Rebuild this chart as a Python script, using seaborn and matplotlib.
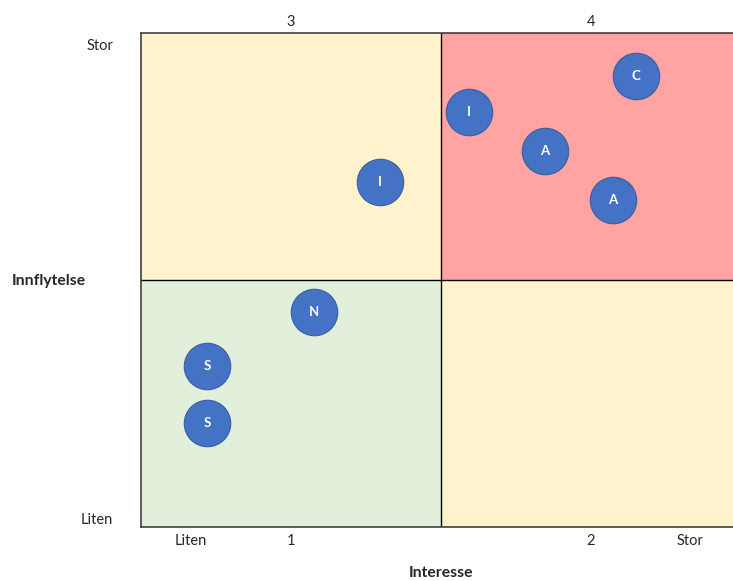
import matplotlib
matplotlib.use("Agg")
import matplotlib.pyplot as plt
import seaborn as sns
import pandas as pd

# Data
labels = ["I", "I", "C", "A", "A", "N", "S", "S"]
interesse = [0.797, 1.093, 1.650, 1.347, 1.573, 0.577, 0.220, 0.220]
innflytelse = [1.397, 1.680, 1.826, 1.522, 1.324, 0.870, 0.652, 0.421]
x_tick_pos = [0.167, 0.5, 1.497, 1.83]
x_tick_labels = ["Liten", "1", "2", "Stor"]
top_tick_pos = [0.5, 1.5]
top_tick_labels = ["3", "4"]
y_tick_pos = [0.036, 1.955]
y_tick_labels = ["Liten", "Stor"]

df = pd.DataFrame({"Interesse": interesse, "Innflytelse": innflytelse, "label": labels})

sns.set_style("white")
plt.rcParams['font.family'] = ['Lato', 'DejaVu Sans']

W, H = 733, 581
fig = plt.figure(figsize=(W / 100, H / 100), dpi=100)
ax = fig.add_axes([141 / W, (H - 527) / H, 600 / W, 494 / H])
ax.set_xlim(0, 2)
ax.set_ylim(0, 2)

# Quadrant backgrounds
quad = [((0, 1), (1, 2), "#FFF2CC"), ((1, 2), (1, 2), "#FFA3A3"),
        ((0, 1), (0, 1), "#E2EFDA"), ((1, 2), (0, 1), "#FFF2CC")]
for (x0, x1), (y0, y1), c in quad:
    ax.fill_between([x0, x1], y0, y1, color=c, linewidth=0, zorder=0)
ax.axvline(1, color="black", lw=1.0, zorder=1)
ax.axhline(1, color="black", lw=1.0, zorder=1)

sns.scatterplot(data=df, x="Interesse", y="Innflytelse", ax=ax, s=1120,
                color="#4472C4", edgecolor="#3A5F9F", linewidth=0.8, zorder=3, legend=False)
for xi, yi, t in zip(interesse, innflytelse, labels):
    ax.text(xi, yi, t, color="white", fontsize=9.5, fontweight="bold",
            ha="center", va="center", zorder=4)

for s in ax.spines.values():
    s.set_color("#404040")
    s.set_linewidth(1.2)

ax.set_xlabel("")
ax.set_ylabel("")
ax.set_xticks(x_tick_pos)
ax.set_xticklabels(x_tick_labels, fontsize=10.5)
ax.set_yticks(y_tick_pos)
ax.set_yticklabels(y_tick_labels, fontsize=10.5)
ax.tick_params(axis="x", length=0, pad=5)
ax.tick_params(axis="y", length=0, pad=20)

sec = ax.secondary_xaxis("top")
sec.set_xticks(top_tick_pos)
sec.set_xticklabels(top_tick_labels, fontsize=10.5)
sec.tick_params(length=0, pad=3)
sec.spines["top"].set_visible(False)

fig.text(12 / W, 1 - 281 / H, "Innflytelse", fontsize=11.3, fontweight="bold",
         ha="left", va="center")
fig.text(441 / W, 1 - 573 / H, "Interesse", fontsize=11.3, fontweight="bold",
         ha="center", va="center")

fig.savefig("out.png", dpi=100)
